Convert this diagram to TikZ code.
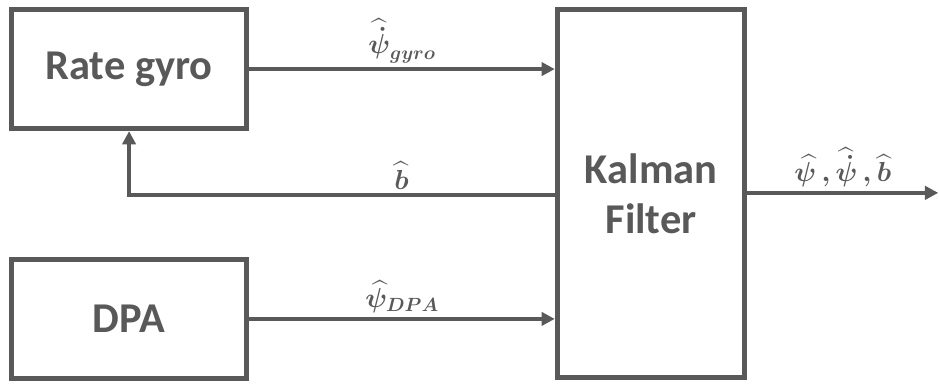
\documentclass[tikz,border=0pt]{standalone}
\usepackage{fontspec}
\setmainfont{Carlito}
\usepackage{amsmath}
\usepackage{bm}
\usetikzlibrary{arrows.meta, positioning}
\definecolor{darkgray}{HTML}{595959}
\tikzset{
    block/.style = {rectangle, draw=darkgray, line width=4pt, fill=white, align=center, text=darkgray, font=\fontsize{32}{38}\selectfont\bfseries},
    arrow/.style = {draw=darkgray, line width=3pt, -{Triangle[length=10pt, width=10pt]}},
    sig/.style = {text=darkgray, font=\fontsize{21}{24}\selectfont\boldmath, inner sep=3pt}
}
\begin{document}
\begin{tikzpicture}
\useasboundingbox (0,0) rectangle (24.88,-10.15);
\node (gyro) [block, minimum width=6.23cm, minimum height=3.15cm] at (3.42,-1.83) {Rate gyro};
\node (dpa) [block, minimum width=6.23cm, minimum height=3.15cm] at (3.42,-8.45) {DPA};
\node (kf) [block, minimum width=4.96cm, minimum height=9.75cm] at (17.25,-5.13) {Kalman\\Filter};
\coordinate (fb) at (gyro.south |- 0,-5.17);
\coordinate (out) at (24.86,-5.11);

\draw [arrow] (gyro.east) -- node[sig, above] {$\bm{\widehat{\dot{\psi}}_{gyro}}$} (kf.west |- gyro.east);
\draw [arrow] (dpa.east) -- node[sig, above] {$\bm{\widehat{\psi}_{DPA}}$} (kf.west |- dpa.east);
\draw [arrow] (kf.west |- fb) -- node[sig, above, pos=0.36] {$\bm{\widehat{b}}$} (fb) -- (gyro.south);
\draw [arrow] (kf.east |- out) -- node[sig, above] {$\bm{\widehat{\psi}\,,\widehat{\dot{\psi}}\,,\widehat{b}}$} (out);
\end{tikzpicture}
\end{document}
